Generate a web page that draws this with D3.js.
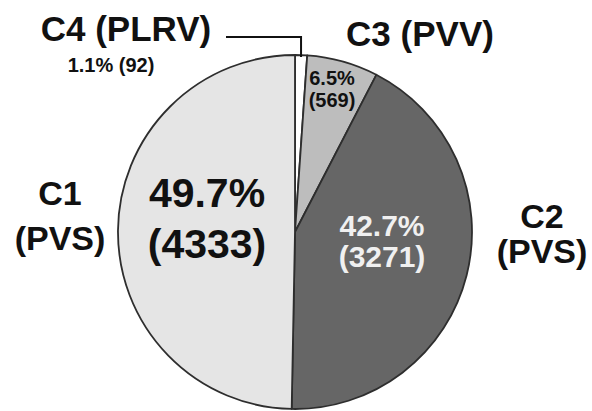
<!DOCTYPE html>
<html>
<head>
<meta charset="utf-8">
<script src="https://cdn.jsdelivr.net/npm/d3@7"></script>
<style>
  body { margin: 0; background: #fff; }
  text { font-family: "Liberation Sans", Arial, sans-serif; }
</style>
</head>
<body>
<div id="wrapper"></div>
<script>
// data, in drawing order (clockwise from 12 o'clock)
const groups = ["C4", "C3", "C2", "C1"]
const viruses = ["PLRV", "PVV", "PVS", "PVS"]
const percents = [1.1, 6.5, 42.7, 49.7]
const counts = [92, 569, 3271, 4333]
const fills = ["#ffffff", "#bdbdbd", "#666666", "#e5e5e5"]

const dimensions = { width: 592, height: 411 }
const center = { x: 295, y: 232 }
const radius = 177

const wrapper = d3.select("#wrapper")
  .append("svg")
    .attr("width", dimensions.width)
    .attr("height", dimensions.height)

const bounds = wrapper.append("g")
    .attr("transform", `translate(${center.x}, ${center.y})`)

const slices = groups.map((g, i) => ({
  group: g, virus: viruses[i], pct: percents[i], count: counts[i], fill: fills[i],
}))

const pieGenerator = d3.pie()
    .sort(null)
    .value(d => d.pct)

const arcGenerator = d3.arc()
    .innerRadius(0)
    .outerRadius(radius)

const arcs = pieGenerator(slices)

bounds.selectAll("path")
  .data(arcs)
  .enter().append("path")
    .attr("d", arcGenerator)
    .attr("fill", d => d.data.fill)
    .attr("stroke", "#2e2e2e")
    .attr("stroke-width", 1.8)
    .attr("stroke-linejoin", "round")

const fmt = d => `${d.data.pct.toFixed(1)}%`
const fmtCount = d => `(${d.data.count})`

// label layout, offsets from the pie centre
const inner = {
  C3: { dx: 37, y1: -147, y2: -125, size: 20, weight: "bold", color: "#111" },
  C2: { dx: 87, y1: 4, y2: 35, size: 30, weight: "bold", color: "#f0f0f0" },
  C1: { dx: -88, y1: -25, y2: 26, size: 41, weight: "bold", color: "#111" },
}
const outer = {
  C3: { x: 420, size: 35, lines: (d) => [`${d.group} (${d.virus})`], ys: [46] },
  C2: { x: 542, size: 34, lines: (d) => [d.group, `(${d.virus})`], ys: [228, 263] },
  C1: { x: 60, size: 34, lines: (d) => [d.group, `(${d.virus})`], ys: [205, 250] },
  C4: { x: 126, size: 35, lines: (d) => [`${d.group} (${d.virus})`], ys: [41] },
}

arcs.forEach(d => {
  const g = d.data.group
  const cfg = inner[g]
  if (cfg) {
    [fmt(d), fmtCount(d)].forEach((t, i) => {
      bounds.append("text")
          .attr("x", cfg.dx)
          .attr("y", i ? cfg.y2 : cfg.y1)
          .attr("text-anchor", "middle")
          .attr("font-size", cfg.size)
          .attr("font-weight", cfg.weight)
          .attr("fill", cfg.color)
          .text(t)
    })
  }
  const o = outer[g]
  o.lines(d.data).forEach((t, i) => {
    wrapper.append("text")
        .attr("x", o.x)
        .attr("y", o.ys[i])
        .attr("text-anchor", "middle")
        .attr("font-size", o.size)
        .attr("font-weight", "bold")
        .attr("fill", "#111")
        .text(t)
  })
})

// small slice: value under its name plus a leader line
const c4 = arcs[0]
wrapper.append("text")
    .attr("x", 111)
    .attr("y", 72)
    .attr("text-anchor", "middle")
    .attr("font-size", 20)
    .attr("font-weight", "bold")
    .attr("fill", "#111")
    .text(`${fmt(c4)} (${c4.data.count})`)

const mid = (c4.startAngle + c4.endAngle) / 2
const tipX = center.x + Math.sin(mid) * (radius - 2)
const tipY = center.y - Math.cos(mid) * (radius - 2)
wrapper.append("path")
    .attr("d", `M${tipX},${tipY} V37 H226`)
    .attr("fill", "none")
    .attr("stroke", "#111")
    .attr("stroke-width", 2)
</script>
</body>
</html>
